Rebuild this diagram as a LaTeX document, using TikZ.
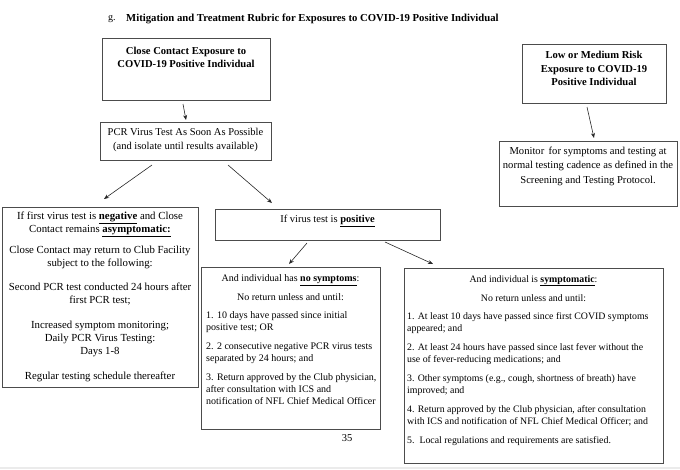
\documentclass[tikz,border=0pt]{standalone}
\usepackage{fontspec}
\setmainfont{Liberation Serif}
\usetikzlibrary{arrows.meta}
\begin{document}
\begin{tikzpicture}[x=1pt,y=-1pt,
  box/.style={draw=black!70, line width=0.8pt, inner sep=0, anchor=north west},
  txt/.style={inner sep=0, align=center, font=\fontsize{10.5}{14.5}\selectfont},
  btxt/.style={inner sep=0, align=center, font=\fontsize{10.6}{13.7}\selectfont\bfseries},
  negtxt/.style={inner sep=0, align=center, font=\fontsize{10.8}{13}\selectfont},
  nostxt/.style={inner sep=0, align=left, anchor=north west, font=\fontsize{10}{12}\selectfont},
  symtxt/.style={inner sep=0, align=left, anchor=north west, font=\fontsize{9.85}{12}\selectfont},
  arr/.style={-{Stealth[length=5pt,width=4pt]}, line width=0.6pt, black!85}]
\useasboundingbox (0,0) rectangle (680,469);
\fill[black!8] (0,466.5) rectangle (680,469);

% title
\node[inner sep=0, anchor=west, font=\fontsize{10}{12}\selectfont] (g) at (108,19) {g.};
\node[inner sep=0, anchor=west, font=\fontsize{10.7}{12}\selectfont\bfseries] (title) at (126,19)
  {Mitigation and Treatment Rubric for Exposures to COVID-19 Positive Individual};

% boxes
\node[box, minimum width=168pt, minimum height=62pt] (cc) at (102,38) {};
\node[box, minimum width=171pt, minimum height=38pt] (pcr) at (100,122) {};
\node[box, minimum width=144pt, minimum height=59pt] (low) at (522,44) {};
\node[box, minimum width=178pt, minimum height=65pt] (mon) at (499,141) {};
\node[box, minimum width=196pt, minimum height=180pt] (neg) at (2,207) {};
\node[box, minimum width=225pt, minimum height=31pt] (pos) at (215,209) {};
\node[box, minimum width=179pt, minimum height=162pt] (nos) at (201,267) {};
\node[box, minimum width=259pt, minimum height=195pt] (sym) at (404,268) {};

% texts
\node[btxt, anchor=north] (cct) at (186,46.5) {Close Contact Exposure to\\COVID-19 Positive Individual};
\node[txt, anchor=north] (pcrt) at (185.5,128) {PCR Virus Test As Soon As Possible\\(and isolate until results available)};
\node[btxt, anchor=north] (lowt) at (594,51) {Low or Medium Risk\\Exposure to COVID-19\\Positive Individual};
\node[txt, anchor=north, font=\fontsize{10.6}{14.3}\selectfont] (mont) at (588,147) {Monitor\, for symptoms and testing at\\normal testing cadence as defined in the\\Screening and Testing Protocol.};
\node[negtxt, anchor=north] (negt) at (100,212) {If first virus test is \textbf{\underline{negative}} and Close\\
  Contact remains \textbf{\underline{asymptomatic:}}\\[8pt]
  Close Contact may return to Club Facility\\subject to the following:\\[11pt]
  Second PCR test conducted 24 hours after\\first PCR test;\\[12pt]
  Increased symptom monitoring;\\Daily PCR Virus Testing:\\Days 1-8\\[12pt]
  Regular testing schedule thereafter};
\node[txt, anchor=north] (post) at (327.5,215) {If virus test is \textbf{\underline{positive}}};

\node[nostxt, anchor=north, align=center] (nosh) at (290.5,274) {And individual has \textbf{\underline{no symptoms}}:\\[7pt]No return unless and until:};
\node[nostxt] (nosl) at (206,311.5) {1. 10 days have passed since initial\\positive test; OR\\[7pt]
  2. 2 consecutive negative PCR virus tests\\separated by 24 hours; and\\[7pt]
  3. Return approved by the Club physician,\\after consultation with ICS and\\notification of NFL Chief Medical Officer};

\node[symtxt, anchor=north, align=center] (symh) at (533.5,275) {And individual is \textbf{\underline{symptomatic}}:\\[7pt]No return unless and until:};
\node[symtxt] (syml) at (407,312.5) {1. At least 10 days have passed since first COVID symptoms\\appeared; and\\[7pt]
  2. At least 24 hours have passed since last fever without the\\use of fever-reducing medications; and\\[7pt]
  3. Other symptoms (e.g., cough, shortness of breath) have\\improved; and\\[7pt]
  4. Return approved by the Club physician, after consultation\\with ICS and notification of NFL Chief Medical Officer; and\\[7pt]
  5.\ \ Local regulations and requirements are satisfied.};

\node[inner sep=0, font=\fontsize{10.5}{12}\selectfont] (pg) at (347,438) {35};

% arrow end points
\coordinate (a1s) at (183,104); \coordinate (a1e) at (186,120);
\coordinate (a2s) at (152,165); \coordinate (a2e) at (104,199);
\coordinate (a3s) at (228,165); \coordinate (a3e) at (272,203);
\coordinate (a4s) at (307,243); \coordinate (a4e) at (289,264);
\coordinate (a5s) at (385,242); \coordinate (a5e) at (433,264);
\coordinate (a6s) at (587,107); \coordinate (a6e) at (594,138);

\draw[arr] (a1s) -- (a1e);
\draw[arr] (a2s) -- (a2e);
\draw[arr] (a3s) -- (a3e);
\draw[arr] (a4s) -- (a4e);
\draw[arr] (a5s) -- (a5e);
\draw[arr] (a6s) -- (a6e);
\end{tikzpicture}
\end{document}
